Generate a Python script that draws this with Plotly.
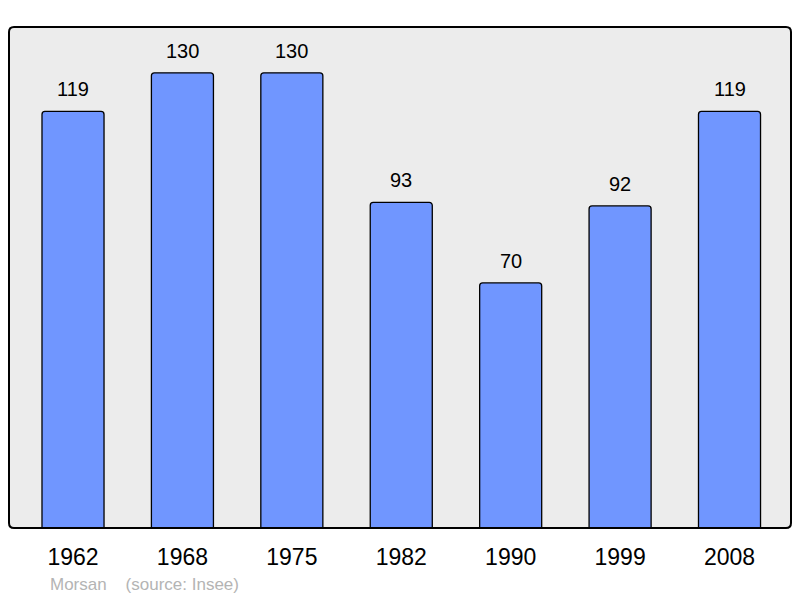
import plotly.graph_objects as go

years = ["1962", "1968", "1975", "1982", "1990", "1999", "2008"]
population = [119, 130, 130, 93, 70, 92, 119]
commune = "Morsan"
source = "(source: Insee)"

# page body has an 8px margin: compensate
OFF = 8
W, H = 800 - OFF, 598 - OFF
L, R, T = 9 - OFF, 9, 27 - OFF
ph = 501
B = H - T - ph
pw = W - L - R

xs = list(range(len(years)))

fig = go.Figure()
fig.add_trace(go.Bar(
    x=xs, y=population, width=0.567,
    marker=dict(color="#7096ff", line=dict(color="black", width=1.3), cornerradius=3),
    hoverinfo="skip",
))

for x, v in zip(xs, population):
    fig.add_annotation(x=x, y=v, text=str(v), showarrow=False, yanchor="middle",
                       yshift=22, font=dict(size=20, color="black"))

fig.add_annotation(xref="paper", yref="paper", x=(48 - 9) / pw, y=-(584 - 528) / ph,
                   xanchor="left", yanchor="middle", showarrow=False,
                   text=commune + "&nbsp;&nbsp;&nbsp;&nbsp;" + source,
                   font=dict(size=17, color="#b4b4b4"))

rx, ry = 5 / pw, 5 / ph
path = (f"M {rx},0 L {1-rx},0 Q 1,0 1,{ry} L 1,{1-ry} Q 1,1 {1-rx},1 "
        f"L {rx},1 Q 0,1 0,{1-ry} L 0,{ry} Q 0,0 {rx},0 Z")
fig.add_shape(type="path", xref="paper", yref="paper", path=path,
              line=dict(color="black", width=2), layer="above")

fig.update_layout(
    width=W, height=H,
    margin=dict(l=L, r=R, t=T, b=B),
    paper_bgcolor="white", plot_bgcolor="#ececec",
    font=dict(family="Liberation Sans, Arial, sans-serif"),
    showlegend=False,
    xaxis=dict(range=[-0.585, 6.562], tickmode="array", tickvals=xs, ticktext=years,
               showgrid=False, zeroline=False, ticks="", ticklabelstandoff=13,
               tickfont=dict(size=23, color="black"), fixedrange=True),
    yaxis=dict(range=[0, 143.1], showgrid=False, zeroline=False, showticklabels=False,
               ticks="", fixedrange=True),
)

fig.write_html("out.html")
